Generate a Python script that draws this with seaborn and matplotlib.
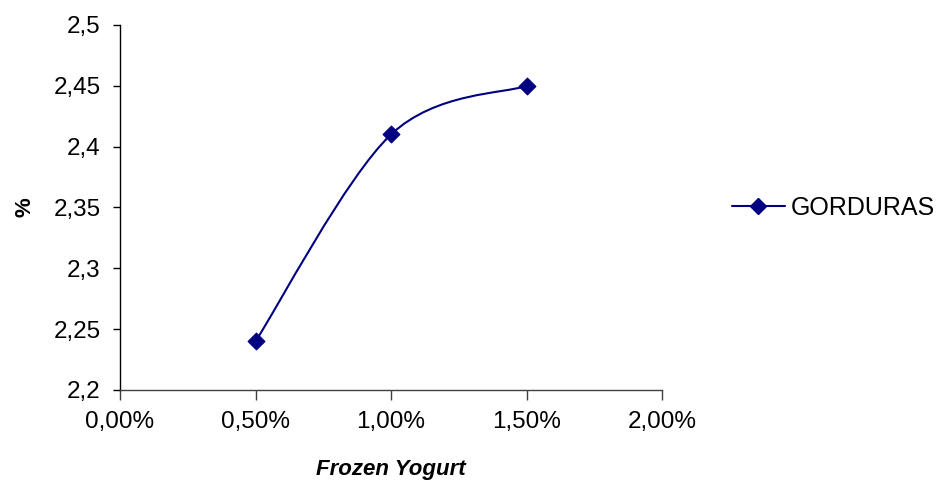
import numpy as np
import pandas as pd
import matplotlib
matplotlib.use("Agg")
import matplotlib.pyplot as plt
from matplotlib.path import Path
from matplotlib.patches import PathPatch
from matplotlib.lines import Line2D
import seaborn as sns

# ---- data ----
concentration = [0.005, 0.010, 0.015]
gorduras = [2.24, 2.41, 2.45]
series_name = "GORDURAS"
x_ticks = [0.0, 0.005, 0.010, 0.015, 0.020]
x_tick_labels = ["0,00%", "0,50%", "1,00%", "1,50%", "2,00%"]
y_ticks = [2.2, 2.25, 2.3, 2.35, 2.4, 2.45, 2.5]
y_tick_labels = ["2,2", "2,25", "2,3", "2,35", "2,4", "2,45", "2,5"]

df = pd.DataFrame({"x": concentration, "y": gorduras})

sns.set_theme(style="white")
plt.rcParams["font.family"] = ["Liberation Sans", "DejaVu Sans"]
plt.rcParams["text.color"] = "black"
plt.rcParams["axes.labelcolor"] = "black"
plt.rcParams["xtick.color"] = "black"
plt.rcParams["ytick.color"] = "black"

navy = "#000080"
fig = plt.figure(figsize=(9.38, 4.86), dpi=100)
ax = fig.add_axes([120/938, 1-390/486, (662-120)/938, (390-25)/486])

# smoothed line (Excel-style Catmull-Rom Bezier through the data points)
pts = np.column_stack([df["x"].to_numpy(), df["y"].to_numpy()])
ext = np.vstack([pts[:1], pts, pts[-1:]])
verts = [tuple(pts[0])]
codes = [Path.MOVETO]
for i in range(len(pts) - 1):
    p_prev, p0, p1, p_next = ext[i], ext[i+1], ext[i+2], ext[i+3]
    c1 = p0 + (p1 - p_prev) / 6.0
    c2 = p1 - (p_next - p0) / 6.0
    verts += [tuple(c1), tuple(c2), tuple(p1)]
    codes += [Path.CURVE4] * 3
ax.add_patch(PathPatch(Path(verts, codes), facecolor="none", edgecolor=navy,
                       linewidth=1.5, zorder=2))

sns.scatterplot(data=df, x="x", y="y", marker="D", s=75, color=navy,
                edgecolor=navy, ax=ax, zorder=3, legend=False)

ax.set_xlim(0, 0.02)
ax.set_ylim(2.2, 2.5)
ax.set_xticks(x_ticks)
ax.set_xticklabels(x_tick_labels)
ax.set_yticks(y_ticks)
ax.set_yticklabels(y_tick_labels)

for s in ["top", "right"]:
    ax.spines[s].set_visible(False)
ax.spines["left"].set_color("black")
ax.spines["bottom"].set_color("#404040")
ax.spines["left"].set_linewidth(1.0)
ax.spines["bottom"].set_linewidth(1.0)

ax.tick_params(axis="y", which="major", direction="out", length=5, width=1,
               color="black", labelcolor="black", pad=9, labelsize=17.5, left=True)
ax.tick_params(axis="x", which="major", direction="out", length=7, width=1,
               color="#404040", labelcolor="black", pad=8, labelsize=17.5, bottom=True)
ax.grid(False)

ax.set_xlabel("Frozen Yogurt", fontsize=16, fontweight="bold", fontstyle="italic",
              labelpad=19, color="black")
ax.set_ylabel("%", fontsize=16, fontweight="bold", labelpad=13, color="black")

handle = Line2D([], [], color=navy, linewidth=1.5, marker="D", markersize=8,
                markerfacecolor=navy, markeredgecolor=navy)
fig.legend([handle], [series_name], loc="center left",
           bbox_to_anchor=(732/938, 1-208/486), frameon=False, fontsize=18,
           handlelength=2.1, handletextpad=0.25, borderpad=0, borderaxespad=0,
           labelcolor="black")

fig.savefig("out.png", dpi=100)
